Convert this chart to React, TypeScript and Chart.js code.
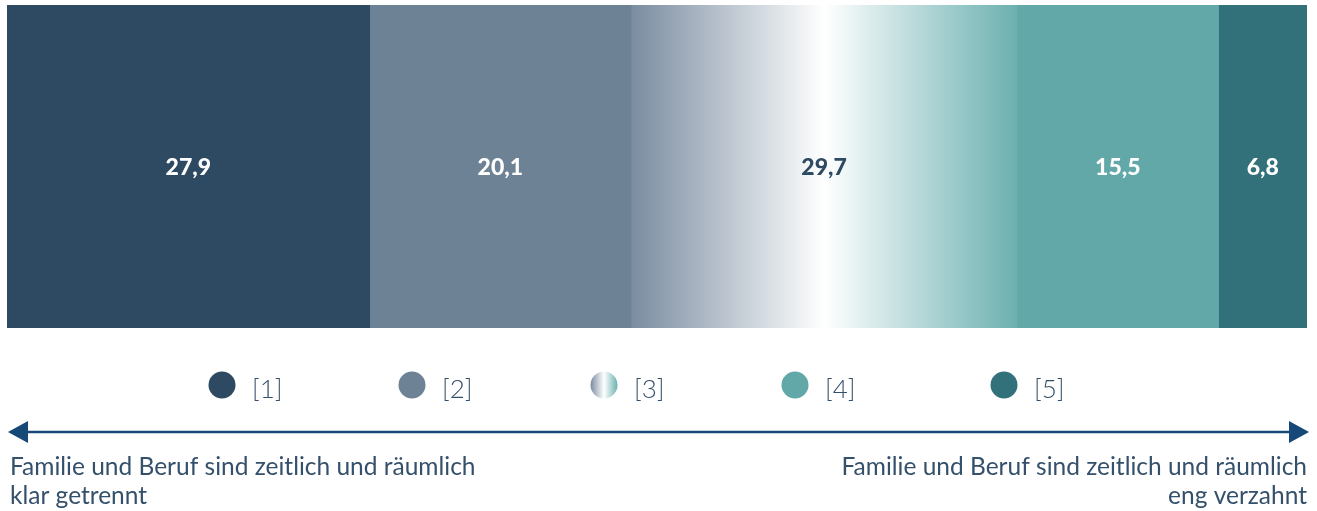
import React, { useEffect, useRef } from "react";
import { Chart, registerables } from "chart.js";

Chart.register(...registerables);

const categories = ["Gesamt"];
const seriesLabels = ["[1]", "[2]", "[3]", "[4]", "[5]"];
const seriesValues = [27.9, 20.1, 29.7, 15.5, 6.8];
const seriesColors = ["#2e4a63", "#6d8294", "gradient", "#62a8a8", "#32717a"];
const labelColors = ["#ffffff", "#ffffff", "#2e4a63", "#ffffff", "#ffffff"];
const arrowLeftText = ["Familie und Beruf sind zeitlich und räumlich", "klar getrennt"];
const arrowRightText = ["Familie und Beruf sind zeitlich und räumlich", "eng verzahnt"];
const legendCenters = [222, 412, 604, 795, 1004];

const FONT = "Lato, 'Source Sans Pro', 'Noto Sans', sans-serif";

function makeGradient(ctx: CanvasRenderingContext2D, x0: number, x1: number) {
  const g = ctx.createLinearGradient(x0, 0, x1, 0);
  g.addColorStop(0, "#7a8ca0");
  g.addColorStop(0.5, "#ffffff");
  g.addColorStop(1, "#6cb0b0");
  return g;
}

const overlayPlugin = {
  id: "overlay",
  afterDatasetsDraw(chart: any) {
    const ctx: CanvasRenderingContext2D = chart.ctx;
    ctx.save();
    // value labels
    chart.data.datasets.forEach((ds: any, i: number) => {
      const meta = chart.getDatasetMeta(i);
      meta.data.forEach((el: any, j: number) => {
        const v = ds.data[j];
        const cx = (el.x + el.base) / 2;
        ctx.font = `900 23px ${FONT}`;
        ctx.fillStyle = labelColors[i];
        ctx.textAlign = "center";
        ctx.textBaseline = "middle";
        ctx.fillText(v.toFixed(1).replace(".", ","), cx, el.y + 1);
      });
    });
    // legend
    const ly = 385;
    seriesLabels.forEach((lab, i) => {
      const cx = legendCenters[i];
      ctx.beginPath();
      ctx.arc(cx, ly, 13.5, 0, Math.PI * 2);
      if (seriesColors[i] === "gradient") {
        ctx.fillStyle = makeGradient(ctx, cx - 13.5, cx + 13.5);
      } else {
        ctx.fillStyle = seriesColors[i];
      }
      ctx.fill();
      ctx.font = `300 26px ${FONT}`;
      ctx.fillStyle = "#34506b";
      ctx.textAlign = "left";
      ctx.textBaseline = "alphabetic";
      ctx.fillText(lab, cx + 30, ly + 13);
    });
    // arrow
    const ay = 432;
    const color = "#164878";
    ctx.strokeStyle = color;
    ctx.lineWidth = 2.5;
    ctx.beginPath();
    ctx.moveTo(20, ay);
    ctx.lineTo(1296, ay);
    ctx.stroke();
    ctx.fillStyle = color;
    ctx.beginPath();
    ctx.moveTo(8, ay);
    ctx.lineTo(28, ay - 11);
    ctx.lineTo(28, ay + 11);
    ctx.closePath();
    ctx.fill();
    ctx.beginPath();
    ctx.moveTo(1309, ay);
    ctx.lineTo(1289, ay - 11);
    ctx.lineTo(1289, ay + 11);
    ctx.closePath();
    ctx.fill();
    // texts
    ctx.font = `24.5px ${FONT}`;
    ctx.fillStyle = "#34506b";
    ctx.textAlign = "left";
    ctx.textBaseline = "alphabetic";
    ctx.fillText(arrowLeftText[0], 10, 475);
    ctx.fillText(arrowLeftText[1], 10, 504);
    ctx.textAlign = "right";
    ctx.fillText(arrowRightText[0], 1307, 475);
    ctx.fillText(arrowRightText[1], 1307, 504);
    ctx.restore();
  },
};

export default function App() {
  const ref = useRef<HTMLCanvasElement | null>(null);
  useEffect(() => {
    if (!ref.current) return;
    const chart = new Chart(ref.current, {
      type: "bar",
      data: {
        labels: categories,
        datasets: seriesValues.map((v, i) => ({
          label: seriesLabels[i],
          data: [v],
          backgroundColor:
            seriesColors[i] === "gradient"
              ? (c: any) => {
                  const ch = c.chart;
                  if (!ch.chartArea) return "#cccccc";
                  const xs = ch.scales.x;
                  let start = 0;
                  for (let k = 0; k < i; k++) start += seriesValues[k];
                  const x0 = xs.getPixelForValue(start);
                  const x1 = xs.getPixelForValue(start + v);
                  return makeGradient(ch.ctx, x0, x1);
                }
              : seriesColors[i],
          borderWidth: 0,
          barPercentage: 1,
          categoryPercentage: 1,
        })),
      },
      options: {
        indexAxis: "y",
        animation: false,
        responsive: false,
        maintainAspectRatio: false,
        layout: { padding: { left: 7, right: 10, top: 5, bottom: 183 } },
        scales: {
          x: { stacked: true, min: 0, max: 100, display: false },
          y: { stacked: true, display: false },
        },
        plugins: { legend: { display: false }, tooltip: { enabled: false } },
      } as any,
      plugins: [overlayPlugin],
    });
    return () => chart.destroy();
  }, []);
  return (
    <div style={{ position: "fixed", left: 0, top: 0, width: 1317, height: 511, background: "#fff" }}>
      <canvas ref={ref} width={1317} height={511} style={{ display: "block" }} />
    </div>
  );
}
